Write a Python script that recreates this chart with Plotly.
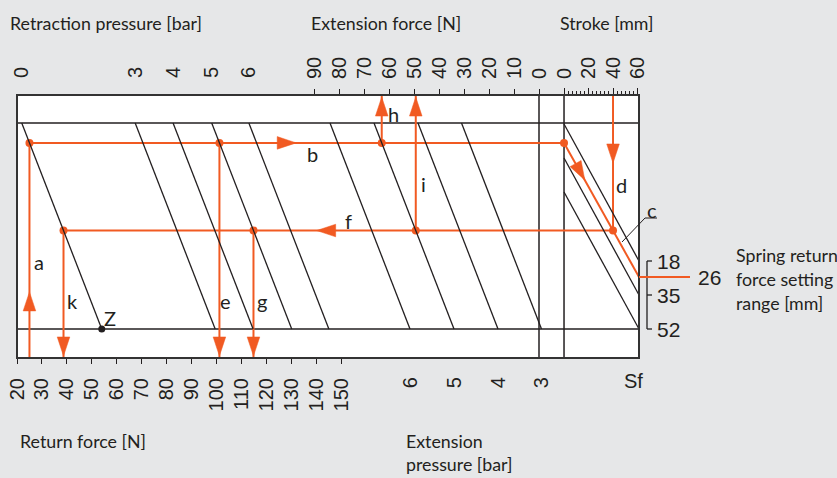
import plotly.graph_objects as go

# ---------------- scale readings ----------------
return_force_ticks = list(range(20, 151, 10))          # N, lower scale
extension_force_ticks = list(range(0, 91, 10))         # N, upper scale
stroke_labels = [0, 20, 40, 60]                        # mm, upper right scale
stroke_minor = [n * 10 / 3 for n in range(19)]         # mm, fine graduation

retraction_pressure = [0, 3, 4, 5, 6]                  # bar
retraction_base_force = [54.0, 99.5, 114.7, 130.2, 145.1]   # N where each isobar meets the lower line
extension_pressure = [6, 5, 4, 3]                      # bar
extension_base_force = [51.6, 34.0, 16.4, -1.0]        # N where each isobar meets the lower line
spring_settings = [18, 35, 52]                         # mm

# worked example
example_return_force = 25      # a
example_setting = 26           # c
example_stroke = 40            # d
example_pressure = 5           # e, g, h, i

# ---------------- geometry ----------------
RET_SHIFT = 32.1       # N between lower and upper line along a retraction isobar
EXT_SHIFT = 32.0       # N between lower and upper line along an extension isobar
SPRING_RISE = 68.5     # mm of setting scale climbed by a spring line across the stroke field
SPRING_BASE = 52.0     # setting value on the lower line
SPRING_SCALE = 103.0   # setting mm per unit of field height

FIG_W, FIG_H = 837, 478
ML, MR, MT, MB = 17, 198, 95, 120
PW = FIG_W - ML - MR
PH = FIG_H - MT - MB

X_RANGE = [20.0, 269.5]       # return force
X2_RANGE = [208.8, -40.0]     # extension force (runs leftwards)
X3_RANGE = [-446.5, 61.2]     # stroke
Y_RANGE = [-0.1408, 1.1359]   # field height, 0 = lower line, 1 = upper line
Y2_RANGE = [SPRING_BASE - Y_RANGE[0] * SPRING_SCALE, SPRING_BASE - Y_RANGE[1] * SPRING_SCALE]
RANGES = {"x": X_RANGE, "x2": X2_RANGE, "x3": X3_RANGE,
          "x4": X_RANGE, "x5": X3_RANGE, "x6": X2_RANGE}

INK = "#231f20"
ORANGE = "#f15a22"
BG = "#e6e7e8"
TICK_FAMILY = "Liberation Sans, Arial, sans-serif"
TEXT_FAMILY = "Lato, Liberation Sans, sans-serif"
TEXT_SIZE = 17.8


def to_paper(ax, v):
    r = RANGES[ax]
    return (v - r[0]) / (r[1] - r[0])


def convert(v, src, dst):
    r = RANGES[dst]
    return r[0] + to_paper(src, v) * (r[1] - r[0])


def px_per_unit(ax):
    r = RANGES[ax]
    return PW / (r[1] - r[0])


PX_PER_Y = PH / (Y_RANGE[1] - Y_RANGE[0])


def ret_force_at(p, y):
    return retraction_base_force[retraction_pressure.index(p)] - RET_SHIFT * y


def ret_level(p, force):
    return (retraction_base_force[retraction_pressure.index(p)] - force) / RET_SHIFT


def ext_force_at(p, y):
    return extension_base_force[extension_pressure.index(p)] + EXT_SHIFT * y


def y_of_setting(s):
    return (SPRING_BASE - s) / SPRING_SCALE


traces = []


def line(ax, xs, ys, color=INK, width=1.3, yax="y"):
    traces.append(go.Scatter(x=xs, y=ys, mode="lines", xaxis=ax, yaxis=yax,
                             line=dict(color=color, width=width),
                             hoverinfo="skip", showlegend=False))


def arrowhead(ax, tx, ty, ux, uy, length=19, half=6.3):
    """Filled triangle with its tip at (tx, ty); (ux, uy) is the screen direction."""
    n = (ux * ux + uy * uy) ** 0.5
    ux, uy = ux / n, uy / n
    sx = px_per_unit(ax)
    bx, by = -ux * length, -uy * length
    qx, qy = -uy, ux
    pts = [(0, 0), (bx + qx * half, by + qy * half), (bx - qx * half, by - qy * half), (0, 0)]
    xs = [tx + p[0] / sx for p in pts]
    ys = [ty - p[1] / PX_PER_Y for p in pts]
    traces.append(go.Scatter(x=xs, y=ys, mode="lines", fill="toself", fillcolor=ORANGE,
                             line=dict(color=ORANGE, width=0.5), xaxis=ax, yaxis="y",
                             hoverinfo="skip", showlegend=False))


# ---------------- isobars and spring lines ----------------
# drawn on the label axes (x4, x6, x5) so those scales are rendered
for base in retraction_base_force:
    line("x4", [base - RET_SHIFT, base], [1, 0])
for base in extension_base_force:
    line("x6", [base + EXT_SHIFT, base], [1, 0])
stroke_edge = X3_RANGE[1]
for s in spring_settings:
    line("x5", [0, stroke_edge], [s - SPRING_RISE, s], yax="y2")

# ---------------- worked example ----------------
y_b = ret_level(0, example_return_force)
y_end = y_of_setting(example_setting)
y_f = y_b + (y_end - y_b) * example_stroke / stroke_edge

f_e = ret_force_at(example_pressure, y_b)
f_g = ret_force_at(example_pressure, y_f)
f_k = ret_force_at(0, y_f)
e_h = ext_force_at(example_pressure, y_b)
e_i = ext_force_at(example_pressure, y_f)

stroke0_x = convert(0, "x3", "x")
stroke_d_x = convert(example_stroke, "x3", "x")

y_lo, y_hi = Y_RANGE
line("x", [example_return_force] * 2, [y_lo, y_b], ORANGE, 2)           # a
line("x", [example_return_force, stroke0_x], [y_b, y_b], ORANGE, 2)     # b
line("x3", [0, stroke_edge], [y_b, y_end], ORANGE, 2)                   # c
line("x3", [example_stroke] * 2, [y_hi, y_f], ORANGE, 2)                # d
line("x", [stroke_d_x, f_k], [y_f, y_f], ORANGE, 2)                     # f
line("x", [f_e] * 2, [y_b, y_lo], ORANGE, 2)                            # e
line("x", [f_g] * 2, [y_f, y_lo], ORANGE, 2)                            # g
line("x", [f_k] * 2, [y_f, y_lo], ORANGE, 2)                            # k
line("x2", [e_h] * 2, [y_b, y_hi], ORANGE, 2)                           # h
line("x2", [e_i] * 2, [y_f, y_hi], ORANGE, 2)                           # i

# arrowheads
arrowhead("x", example_return_force, 0.18, 0, -1)
arrowhead("x", 132.0, y_b, 1, 0)
c_dx = stroke_edge * px_per_unit("x3")
c_dy = (y_b - y_end) * PX_PER_Y
c_tip = 17.0
arrowhead("x3", c_tip, y_b + (y_end - y_b) * c_tip / stroke_edge, c_dx, c_dy)
arrowhead("x3", example_stroke, 0.806, 0, 1)
arrowhead("x", 140.2, y_f, -1, 0)
for fx in (f_e, f_g, f_k):
    arrowhead("x", fx, y_lo + 0.01, 0, 1)
for ex in (e_h, e_i):
    arrowhead("x2", ex, y_hi - 0.01, 0, -1)

# junction dots
dots_x = [example_return_force, f_e, convert(e_h, "x2", "x"), stroke0_x,
          stroke_d_x, convert(e_i, "x2", "x"), f_g, f_k]
dots_y = [y_b] * 4 + [y_f] * 4
traces.append(go.Scatter(x=dots_x, y=dots_y, mode="markers", xaxis="x", yaxis="y",
                         marker=dict(color=ORANGE, size=8), hoverinfo="skip", showlegend=False))
# Z point: foot of the 0 bar isobar
traces.append(go.Scatter(x=[retraction_base_force[0]], y=[0], mode="markers", xaxis="x", yaxis="y",
                         marker=dict(color=INK, size=7), hoverinfo="skip", showlegend=False))

fig = go.Figure(traces)

# ---------------- frame ----------------
shapes = [
    dict(type="line", xref="paper", yref="y", x0=0, x1=1, y0=1, y1=1, line=dict(color=INK, width=1.5), layer="below"),
    dict(type="line", xref="paper", yref="y", x0=0, x1=1, y0=0, y1=0, line=dict(color=INK, width=1.5), layer="below"),
    dict(type="line", xref="x2", yref="paper", x0=0, x1=0, y0=0, y1=1, line=dict(color=INK, width=1.5), layer="below"),
    dict(type="line", xref="x3", yref="paper", x0=0, x1=0, y0=0, y1=1, line=dict(color=INK, width=1.5), layer="below"),
    dict(type="rect", xref="paper", yref="paper", x0=0, x1=1, y0=0, y1=1, line=dict(color="#333333", width=2)),
]


def px_x(px):
    return (px - ML) / PW


def px_y(py):
    return (FIG_H - MB - py) / PH


# setting-range bracket
bx0, bx1 = px_x(647), px_x(652)
shapes.append(dict(type="line", xref="paper", yref="y2", x0=bx0, x1=bx0,
                   y0=spring_settings[0], y1=spring_settings[-1], line=dict(color=INK, width=1.3)))
for s in spring_settings:
    shapes.append(dict(type="line", xref="paper", yref="y2", x0=bx0, x1=bx1, y0=s, y1=s,
                       line=dict(color=INK, width=1.3)))
# chosen setting pointer
shapes.append(dict(type="line", xref="paper", yref="y2", x0=1, x1=px_x(690),
                   y0=example_setting, y1=example_setting, line=dict(color=ORANGE, width=2)))
# leader for label c
shapes.append(dict(type="path", xref="paper", yref="paper",
                   path=f"M{px_x(622)},{px_y(242)} L{px_x(645)},{px_y(218)} L{px_x(657)},{px_y(218)}",
                   line=dict(color=INK, width=1)))

annotations = []


def text(t, x, y, size=TEXT_SIZE, anchor="left", family=TEXT_FAMILY, xref="paper", yref="paper"):
    annotations.append(dict(text=t, x=x, y=y, xref=xref, yref=yref, xanchor=anchor,
                            yanchor="middle", showarrow=False,
                            font=dict(family=family, size=size, color=INK)))


text("Retraction pressure [bar]", px_x(8), px_y(23))
text("Extension force [N]", px_x(309), px_y(23))
text("Stroke [mm]", px_x(558), px_y(23))
text("Return force [N]", px_x(18), px_y(441))
text("Extension", px_x(404), px_y(441))
text("pressure [bar]", px_x(404), px_y(464))
text("Spring return", px_x(734), px_y(255))
text("force setting", px_x(734), px_y(279))
text("range [mm]", px_x(734), px_y(303))
for s in spring_settings:
    text(str(s), px_x(668), s, size=21, anchor="center", family=TICK_FAMILY, yref="y2")
text(str(example_setting), px_x(709), example_setting, size=21, anchor="center",
     family=TICK_FAMILY, yref="y2")
text("Sf", 56.3, px_y(381), size=20, anchor="center", family=TICK_FAMILY, xref="x3")

for t, x, y in [("a", 39, 262), ("k", 72, 301), ("Z", 110, 318), ("e", 226, 301),
                ("g", 262, 301), ("b", 312, 154), ("h", 393, 114), ("i", 423, 184),
                ("f", 348, 221), ("d", 621, 185), ("c", 652, 210)]:
    text(t, px_x(x), px_y(y), size=20, anchor="center")

tick_font = dict(family=TICK_FAMILY, size=20, color=INK)
common = dict(showgrid=False, zeroline=False, showline=False, automargin=False,
              tickangle=-90, tickfont=tick_font, tickcolor=INK, tickwidth=1.2, fixedrange=True)

fig.update_layout(
    width=FIG_W, height=FIG_H, template="none",
    margin=dict(l=ML, r=MR, t=MT, b=MB, pad=0),
    paper_bgcolor=BG, plot_bgcolor="white",
    showlegend=False, shapes=shapes, annotations=annotations,
    xaxis=dict(range=X_RANGE, side="bottom", anchor="y", tickvals=return_force_ticks,
               ticktext=[str(v) for v in return_force_ticks], ticks="outside", ticklen=5,
               ticklabelstandoff=6, **common),
    xaxis2=dict(range=X2_RANGE, side="top", anchor="y", overlaying="x",
                tickvals=extension_force_ticks, ticktext=[str(v) for v in extension_force_ticks],
                ticks="outside", ticklen=5, ticklabelstandoff=6, **common),
    xaxis3=dict(range=X3_RANGE, side="top", anchor="y", overlaying="x",
                tickvals=stroke_labels, ticktext=[str(v) for v in stroke_labels],
                ticks="outside", ticklen=6, ticklabelstandoff=5, **common),
    xaxis4=dict(range=X_RANGE, side="top", anchor="y", overlaying="x",
                tickvals=[b - RET_SHIFT for b in retraction_base_force],
                ticktext=[str(p) for p in retraction_pressure],
                ticks="", ticklabelstandoff=16, **common),
    xaxis5=dict(range=X3_RANGE, side="top", anchor="y", overlaying="x",
                tickvals=stroke_minor, ticks="outside", ticklen=3, showticklabels=False,
                **common),
    xaxis6=dict(range=X2_RANGE, side="bottom", anchor="y", overlaying="x",
                tickvals=extension_base_force, ticktext=[str(p) for p in extension_pressure],
                ticks="", ticklabelstandoff=14, **common),
    yaxis=dict(range=Y_RANGE, visible=False, fixedrange=True),
    yaxis2=dict(range=Y2_RANGE, overlaying="y", visible=False, fixedrange=True),
)

fig.write_html("out.html")
